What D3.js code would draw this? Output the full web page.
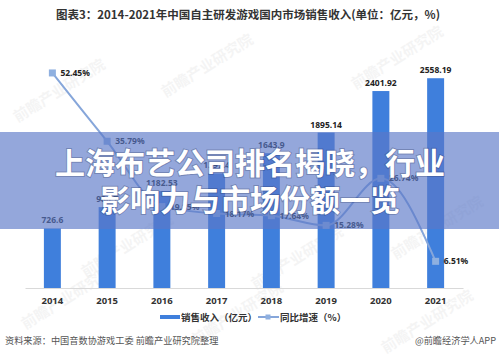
<!DOCTYPE html>
<html>
<head>
<meta charset="utf-8">
<script src="https://cdn.jsdelivr.net/npm/d3@7"></script>
<style>
  body { margin: 0; background: #fff; }
  svg { display: block; font-family: "Noto Sans CJK SC", "Noto Sans", sans-serif; }
</style>
</head>
<body>
<script>
'use strict';

// chart data
const years = ['2014', '2015', '2016', '2017', '2018', '2019', '2020', '2021'];
const revenue = [726.6, 986.7, 1182.53, 1397.4, 1643.9, 1895.14, 2401.92, 2558.19];
const growth = [52.45, 35.79, 19.85, 18.17, 17.64, 15.28, 26.74, 6.51];
const revenueLabels = ['726.6', '986.7', '1182.53', '1397.4', '1643.9', '1895.14', '2401.92', '2558.19'];
const growthLabels = ['52.45%', '35.79%', '19.85%', '18.17%', '17.64%', '15.28%', '26.74%', '6.51%'];

const width = 499;
const height = 363;

const svg = d3.select('body')
  .append('svg')
  .attr('width', width)
  .attr('height', height);

// faint watermarks
const marks = [[62, 95], [210, 70], [400, 62], [130, 250], [300, 262], [440, 232], [70, 302], [430, 326], [240, 318]];
svg.append('g')
  .selectAll('text')
  .data(marks)
  .enter()
  .append('text')
  .attr('transform', d => `translate(${d[0]},${d[1]})rotate(-32)`)
  .attr('text-anchor', 'middle')
  .style('font-size', '15px')
  .style('font-weight', 'bold')
  .attr('fill', '#000')
  .attr('opacity', 0.04)
  .text('前瞻产业研究院');

// title
svg.append('text')
  .attr('x', 248)
  .attr('y', 19)
  .attr('text-anchor', 'middle')
  .style('font-size', '11.5px')
  .style('font-weight', 'bold')
  .attr('fill', '#333')
  .text('图表3：2014-2021年中国自主研发游戏国内市场销售收入(单位：亿元，%)');

// scales
const x = d3.scaleBand()
  .domain(years)
  .range([25, 463])
  .paddingInner(0.69)
  .paddingOuter(0.345);

const y = d3.scaleLinear().domain([0, 3000]).range([288, 42]);
const y2 = d3.scaleLinear().domain([0, 60]).range([288, 42]);

// x axis
const xAxis = svg.append('g')
  .attr('transform', 'translate(0,288)')
  .call(d3.axisBottom(x).tickSize(0).tickPadding(9));
xAxis.select('.domain').attr('stroke', '#d9d9d9');
xAxis.selectAll('text')
  .style('font-size', '9.5px')
  .style('font-weight', 'bold')
  .style('font-family', '"Noto Sans", sans-serif')
  .attr('fill', '#333');

// bars
svg.append('g')
  .selectAll('rect')
  .data(revenue)
  .enter()
  .append('rect')
  .attr('x', (d, i) => x(years[i]))
  .attr('y', d => y(d))
  .attr('width', x.bandwidth())
  .attr('height', d => 288 - y(d))
  .attr('fill', '#3f7fdc');

svg.append('g')
  .selectAll('text')
  .data(revenue)
  .enter()
  .append('text')
  .attr('x', (d, i) => x(years[i]) + x.bandwidth() / 2)
  .attr('y', d => y(d) - 5)
  .attr('text-anchor', 'middle')
  .style('font-size', '8.5px')
  .style('font-weight', 'bold')
  .style('font-family', '"Noto Sans", sans-serif')
  .attr('fill', '#222')
  .text((d, i) => revenueLabels[i]);

// growth line
const line = d3.line()
  .x((d, i) => x(years[i]) + x.bandwidth() / 2)
  .y(d => y2(d))
  .curve(d3.curveMonotoneX);

svg.append('path')
  .datum(growth)
  .attr('d', line)
  .attr('fill', 'none')
  .attr('stroke', '#86a6da')
  .attr('stroke-width', 2);

svg.append('g')
  .selectAll('rect')
  .data(growth)
  .enter()
  .append('rect')
  .attr('x', (d, i) => x(years[i]) + x.bandwidth() / 2 - 3.5)
  .attr('y', d => y2(d) - 3.5)
  .attr('width', 7)
  .attr('height', 7)
  .attr('fill', '#8fb0e0');

svg.append('g')
  .selectAll('text')
  .data(growth)
  .enter()
  .append('text')
  .attr('x', (d, i) => x(years[i]) + x.bandwidth() / 2 + 8)
  .attr('y', d => y2(d) + 3)
  .style('font-size', '8.5px')
  .style('font-weight', 'bold')
  .style('font-family', '"Noto Sans", sans-serif')
  .attr('fill', '#222')
  .text((d, i) => growthLabels[i]);

// legend
const legend = svg.append('g');
legend.append('rect')
  .attr('x', 160).attr('y', 315)
  .attr('width', 20).attr('height', 4)
  .attr('fill', '#3f7fdc');
legend.append('text')
  .attr('x', 181).attr('y', 321)
  .style('font-size', '9.5px')
  .style('font-weight', 'bold')
  .attr('fill', '#333')
  .text('销售收入（亿元）');
legend.append('line')
  .attr('x1', 258).attr('x2', 279)
  .attr('y1', 317).attr('y2', 317)
  .attr('stroke', '#86a6da')
  .attr('stroke-width', 2);
legend.append('rect')
  .attr('x', 265.5).attr('y', 314.5)
  .attr('width', 5).attr('height', 5)
  .attr('fill', '#8fb0e0');
legend.append('text')
  .attr('x', 280).attr('y', 321)
  .style('font-size', '9.5px')
  .style('font-weight', 'bold')
  .attr('fill', '#333')
  .text('同比增速（%）');

// source
svg.append('text')
  .attr('x', 5).attr('y', 344)
  .style('font-size', '9.2px')
  .attr('fill', '#555')
  .text('资料来源：中国音数协游戏工委 前瞻产业研究院整理');
svg.append('text')
  .attr('x', 496).attr('y', 344)
  .attr('text-anchor', 'end')
  .style('font-size', '9.2px')
  .attr('fill', '#555')
  .text('@前瞻经济学人APP');

// overlay banner
svg.append('rect')
  .attr('x', 0).attr('y', 132)
  .attr('width', width).attr('height', 97)
  .attr('fill', '#5a78c8')
  .attr('opacity', 0.65);

const headline = ['上海布艺公司排名揭晓，行业', '影响力与市场份额一览'];
svg.append('g')
  .selectAll('text')
  .data(headline)
  .enter()
  .append('text')
  .attr('x', 250)
  .attr('y', (d, i) => 174 + i * 37)
  .attr('text-anchor', 'middle')
  .style('font-size', '30px')
  .style('font-weight', 'bold')
  .attr('fill', '#fff')
  .style('paint-order', 'stroke')
  .attr('stroke', 'rgba(40,50,90,0.3)')
  .attr('stroke-width', 2)
  .text(d => d);
</script>
</body>
</html>
